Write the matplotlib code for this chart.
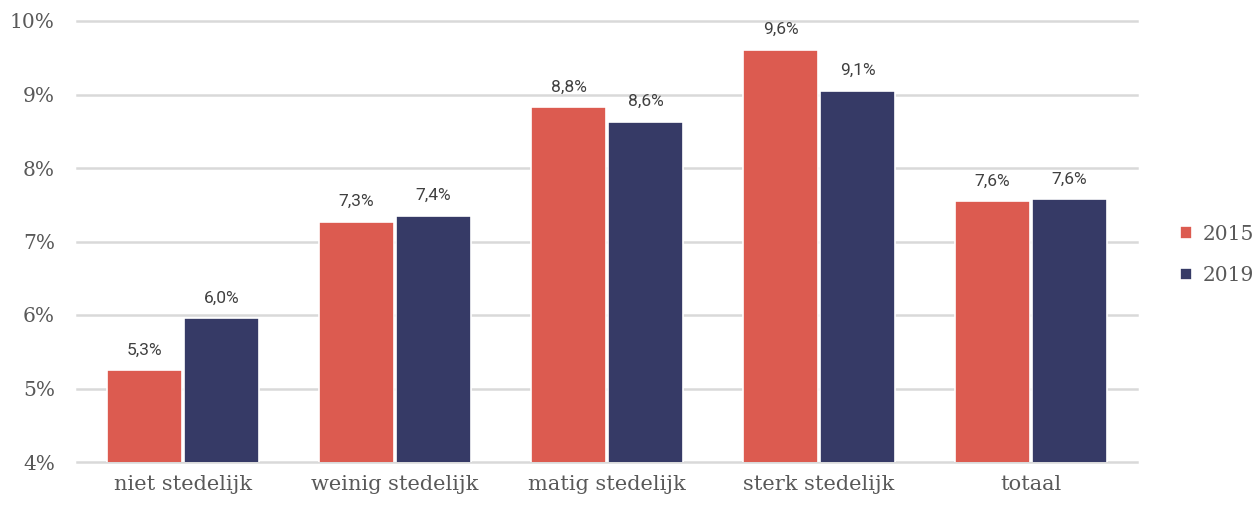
import numpy as np
import matplotlib.pyplot as plt
from matplotlib.ticker import FuncFormatter

categories = ['niet stedelijk', 'weinig stedelijk', 'matig stedelijk', 'sterk stedelijk', 'totaal']
years = ['2015', '2019']
values_2015 = [5.25, 7.27, 8.83, 9.61, 7.55]
values_2019 = [5.96, 7.35, 8.63, 9.05, 7.58]
labels_2015 = ['5,3%', '7,3%', '8,8%', '9,6%', '7,6%']
labels_2019 = ['6,0%', '7,4%', '8,6%', '9,1%', '7,6%']
yticks = [4, 5, 6, 7, 8, 9, 10]

red = '#DC5B50'
navy = '#363A66'
grey_text = '#595959'
serif = ['DejaVu Serif']
sans = ['Roboto', 'DejaVu Sans']

fig = plt.figure(figsize=(12.57, 5.05), dpi=100)
ax = fig.add_axes([77/1257, 43/505, 1060/1257, 441/505])

x = np.arange(len(categories))
w = 0.355
b1 = ax.bar(x - w/2 - 0.004, values_2015, w, color=red, edgecolor='white', linewidth=1.2, label=years[0], zorder=3)
b2 = ax.bar(x + w/2 + 0.004, values_2019, w, color=navy, edgecolor='white', linewidth=1.2, label=years[1], zorder=3)

for bars, labs in ((b1, labels_2015), (b2, labels_2019)):
	for rect, lab in zip(bars, labs):
		ax.annotate(lab, (rect.get_x() + rect.get_width()/2, rect.get_height()),
			xytext=(0, 9), textcoords='offset points', ha='center', va='bottom',
			fontsize=12.5, color='#404040', family=sans)

ax.set_ylim(4, 10)
ax.set_xlim(-0.5, len(categories) - 0.5)
ax.set_yticks(yticks)
ax.yaxis.set_major_formatter(FuncFormatter(lambda v, p: '%d%%' % v))
ax.set_xticks(x)
ax.set_xticklabels(categories)
for lab in ax.get_xticklabels():
	lab.set_family(serif)
	lab.set_fontsize(15)
	lab.set_color(grey_text)
for lab in ax.get_yticklabels():
	lab.set_family(serif)
	lab.set_fontsize(14.5)
	lab.set_color(grey_text)
ax.tick_params(length=0)
ax.tick_params(axis='y', pad=16)
ax.tick_params(axis='x', pad=9)
ax.grid(axis='y', color='#d9d9d9', linewidth=1.8, zorder=0)
for gl in ax.get_ygridlines():
	gl.set_clip_on(False)
for s in ax.spines.values():
	s.set_visible(False)

leg = fig.legend(handles=[b1, b2], labels=years, loc='center left',
	bbox_to_anchor=(1180/1257, 0.495), frameon=False, borderpad=0, borderaxespad=0,
	handlelength=0.6, handleheight=0.6, handletextpad=0.55, labelspacing=1.1,
	prop={'family': serif, 'size': 14.5})
for t in leg.get_texts():
	t.set_color(grey_text)

plt.savefig('out.png')
